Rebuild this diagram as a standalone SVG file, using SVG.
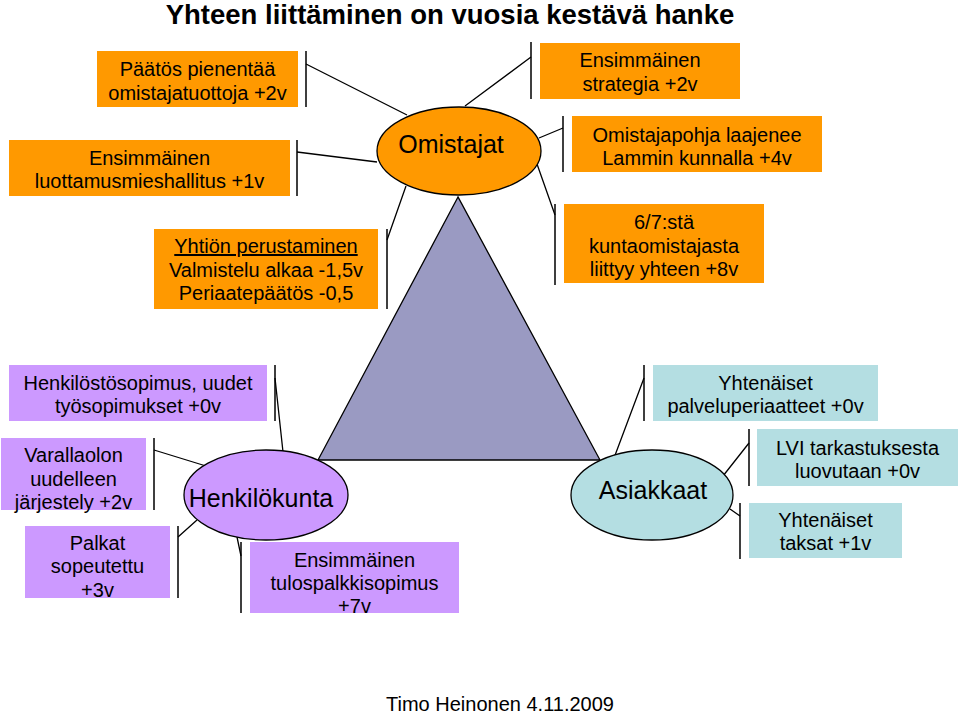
<svg xmlns="http://www.w3.org/2000/svg" width="960" height="714" viewBox="0 0 960 714">
<style>
text{font-family:"Liberation Sans",Arial,sans-serif;fill:#000;text-anchor:middle}
.t{font-size:20px}
.e{font-size:25px}
.o{fill:#FF9900}
.p{fill:#CC99FF}
.c{fill:#B4DEE2}
.ell{stroke:#000;stroke-width:1.3}
.bar{stroke:#000;stroke-width:1.5;fill:none}
.ln{stroke:#000;stroke-width:1.3;fill:none}
</style>
<rect width="960" height="714" fill="#fff"/>
<text x="450" y="24" style="font-size:27.5px;font-weight:bold">Yhteen liittäminen on vuosia kestävä hanke</text>

<g id="triangle"><polygon points="458,197 318,460 600,460" fill="#9A9AC2" stroke="#000" stroke-width="1.3"/></g>

<g id="connectors">
<path class="bar" d="M306,51V107 M297,140V196 M387,229V309 M531,42V99 M563,116V172 M555,204V285 M275,365V421 M154,438V510 M178,526V598 M241,542V613 M644,365V421 M749,429V486 M740,503V559"/>
<path class="ln" d="M306,64L407,115 M297,152L377,162 M387,240L406,186 M531,57L465,106 M563,128L539,138 M555,215L537,164 M275,378L283,452 M154,450L206,466 M178,537L197,520 M241,556L237,537 M644,378L614,458 M749,443L723,476 M740,516L730,509"/>
</g>

<g id="omistajat"><ellipse class="ell" cx="459" cy="151" rx="82" ry="44" fill="#FF9900"/><text class="e" x="451" y="153">Omistajat</text></g>
<g id="henkilokunta"><ellipse class="ell" cx="266" cy="495" rx="82" ry="45" fill="#CC99FF"/><text class="e" x="261" y="507">Henkilökunta</text></g>
<g id="asiakkaat"><ellipse class="ell" cx="652" cy="495" rx="81" ry="45" fill="#B4DEE2"/><text class="e" x="653" y="499">Asiakkaat</text></g>

<g id="n1"><rect class="o" x="97" y="51" width="201" height="56"/><text class="t" x="197.5" y="76">Päätös pienentää</text><text class="t" x="197.5" y="100">omistajatuottoja +2v</text></g>
<g id="n2"><rect class="o" x="9" y="140" width="281" height="56"/><text class="t" x="149.5" y="165">Ensimmäinen</text><text class="t" x="149.5" y="188">luottamusmieshallitus +1v</text></g>
<g id="n3"><rect class="o" x="154" y="229" width="224" height="80"/><text class="t" x="266" y="253" text-decoration="underline">Yhtiön perustaminen</text><text class="t" x="266" y="277">Valmistelu alkaa -1,5v</text><text class="t" x="266" y="300">Periaatepäätös -0,5</text></g>
<g id="n4"><rect class="o" x="540" y="43" width="200" height="56"/><text class="t" x="640" y="67">Ensimmäinen</text><text class="t" x="640" y="91">strategia +2v</text></g>
<g id="n5"><rect class="o" x="572" y="116" width="250" height="56"/><text class="t" x="697" y="142">Omistajapohja laajenee</text><text class="t" x="697" y="165">Lammin kunnalla +4v</text></g>
<g id="n6"><rect class="o" x="564" y="204" width="200" height="79"/><text class="t" x="664" y="229">6/7:stä</text><text class="t" x="664" y="253">kuntaomistajasta</text><text class="t" x="664" y="276">liittyy yhteen +8v</text></g>

<g id="n7"><rect class="p" x="9" y="365" width="258" height="56"/><text class="t" x="138" y="390">Henkilöstösopimus, uudet</text><text class="t" x="138" y="413">työsopimukset +0v</text></g>
<g id="n8"><rect class="p" x="1" y="438" width="145" height="72"/><text class="t" x="73.5" y="462">Varallaolon</text><text class="t" x="73.5" y="486">uudelleen</text><text class="t" x="73.5" y="509">järjestely +2v</text></g>
<g id="n9"><rect class="p" x="25" y="526" width="145" height="72"/><text class="t" x="97.5" y="550">Palkat</text><text class="t" x="97.5" y="573">sopeutettu</text><text class="t" x="97.5" y="597">+3v</text></g>
<g id="n10"><rect class="p" x="250" y="542" width="209" height="71"/><text class="t" x="354.5" y="567">Ensimmäinen</text><text class="t" x="354.5" y="590">tulospalkkisopimus</text><text class="t" x="354.5" y="613">+7v</text></g>

<g id="n11"><rect class="c" x="653" y="365" width="225" height="56"/><text class="t" x="765.5" y="390">Yhtenäiset</text><text class="t" x="765.5" y="413">palveluperiaatteet +0v</text></g>
<g id="n12"><rect class="c" x="757" y="429" width="201" height="57"/><text class="t" x="857.5" y="455">LVI tarkastuksesta</text><text class="t" x="857.5" y="478">luovutaan +0v</text></g>
<g id="n13"><rect class="c" x="749" y="503" width="153" height="55"/><text class="t" x="825.5" y="527">Yhtenäiset</text><text class="t" x="825.5" y="550">taksat +1v</text></g>

<text class="t" x="500" y="711">Timo Heinonen 4.11.2009</text>
</svg>
